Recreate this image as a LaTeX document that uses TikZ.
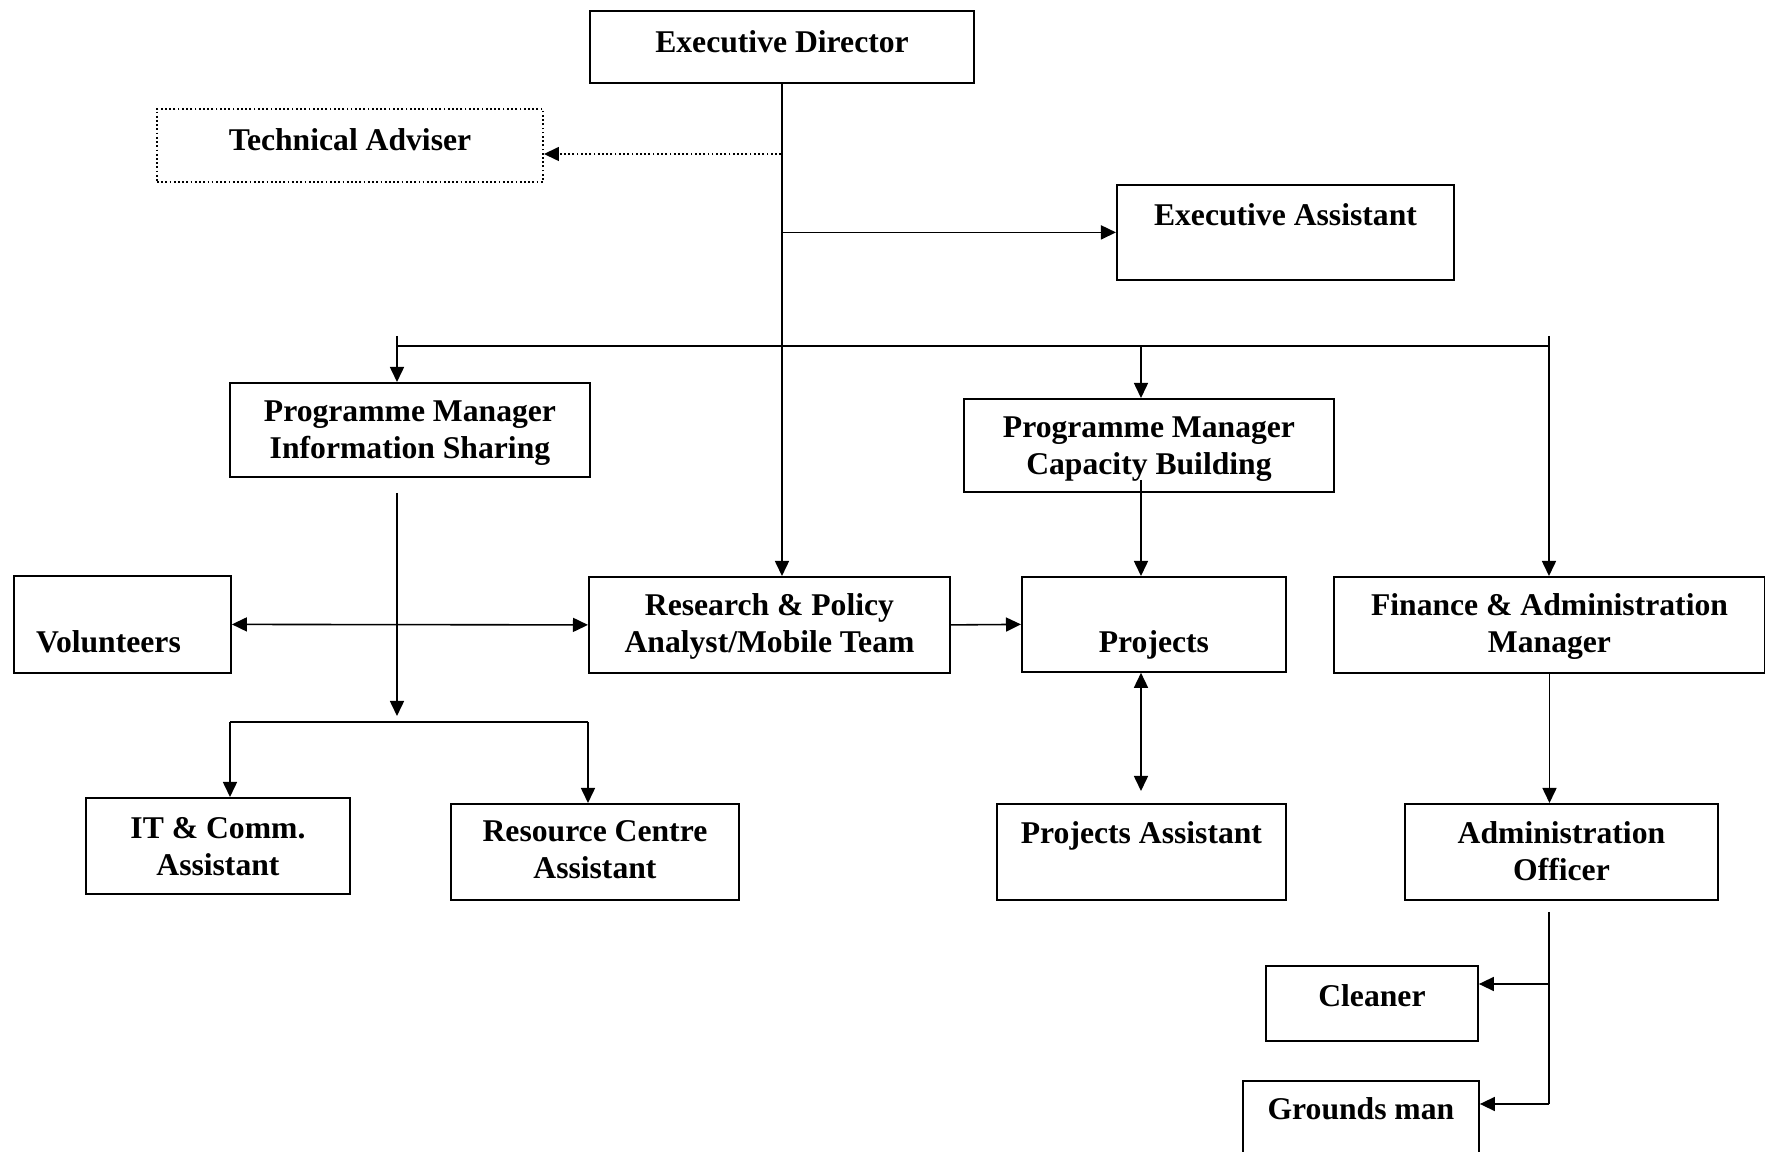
\documentclass[tikz,border=0pt]{standalone}
\usepackage{fontspec}
\setmainfont{Liberation Serif}
\usetikzlibrary{arrows.meta}
\tikzset{
  box/.style={draw, line width=0.5pt, inner sep=0pt, anchor=north west,
    font=\fontsize{9}{10.5}\selectfont\bfseries},
  boxx/.style={box, align=center},
  dots/.style={dash pattern=on 0.5pt off 0.7pt},
  arr/.style={-{Triangle[length=1.5mm,width=1.4mm]}, line width=0.45pt},
  dbl/.style={{Triangle[length=1.5mm,width=1.4mm]}-{Triangle[length=1.5mm,width=1.4mm]}, line width=0.45pt},
  joinline/.style={line width=0.7pt}
}
\begin{document}
\begin{tikzpicture}[x=0.01cm,y=-0.01cm]
    \useasboundingbox (0,0) rectangle (1765,1152);
    \clip (0,0) rectangle (1765,1152);
    \node[box,minimum width=3.84cm,text height=0.42cm,text depth=0.30cm] (ed) at (589,10) {Executive Director};
    \node[box,dots,minimum width=3.86cm,text height=0.42cm,text depth=0.31cm] (ta) at (156,108) {Technical Adviser};
    \node[box,minimum width=3.37cm,text height=0.41cm,text depth=0.54cm] (ea) at (1116,184) {Executive Assistant};
    \node[boxx,minimum width=3.60cm,text height=0.76cm,text depth=0.18cm] (pmis) at (229,382) {Programme Manager\\Information Sharing};
    \node[boxx,minimum width=3.70cm,text height=0.76cm,text depth=0.17cm] (pmcb) at (963,398) {Programme Manager\\Capacity Building};
    \node[box,minimum width=2.17cm,text height=0.77cm,text depth=0.20cm] (vol) at (13,575) {Volunteers\kern0.28cm};
    \node[boxx,minimum width=3.61cm,text height=0.76cm,text depth=0.20cm] (rpa) at (588,576) {Research \& Policy\\Analyst/Mobile Team};
    \node[box,minimum width=2.64cm,text height=0.76cm,text depth=0.19cm] (proj) at (1021,576) {Projects};
    \node[boxx,minimum width=4.31cm,text height=0.76cm,text depth=0.20cm] (fam) at (1333,576) {Finance \& Administration\\Manager};
    \node[boxx,minimum width=2.64cm,text height=0.78cm,text depth=0.18cm] (it) at (85,797) {IT \& Comm.\\Assistant};
    \node[boxx,minimum width=2.88cm,text height=0.75cm,text depth=0.21cm] (rc) at (450,803) {Resource Centre\\Assistant};
    \node[box,minimum width=2.89cm,text height=0.40cm,text depth=0.56cm] (pa) at (996,803) {Projects Assistant};
    \node[boxx,minimum width=3.13cm,text height=0.77cm,text depth=0.19cm] (ao) at (1404,803) {Administration\\Officer};
    \node[box,minimum width=2.12cm,text height=0.41cm,text depth=0.34cm] (cl) at (1265,965) {Cleaner};
    \node[box,minimum width=2.36cm,text height=0.39cm,text depth=0.57cm] (gm) at (1242,1080) {Grounds man};
    \coordinate (tajoin) at (781,154);
    \coordinate (bl) at (397,346);
    \coordinate (br) at (1549,346);
    \coordinate (cbjoin) at (1141,346);
    \coordinate (cbdown) at (1141,480);
    \coordinate (isdown) at (397,493);
    \coordinate (isend) at (397,716);
    \coordinate (itjoin) at (230,722);
    \coordinate (rcjoin) at (588,722);
    \coordinate (paend) at (1141,791);
    \coordinate (aodown) at (1549,912);
    \coordinate (cljoin) at (1549,984);
    \coordinate (gmjoin) at (1549,1104);
    \draw[arr] (ed.south) -- (ed.south |- rpa.north);
    \draw[arr,dots] (tajoin) -- (tajoin -| ta.east);
    \draw[arr] (ed.south |- ea.west) -- (ea.west);
    \draw[joinline] (bl) -- (br);
    \draw[arr] ([yshift=0.1cm]bl) -- (bl |- pmis.north);
    \draw[arr] ([yshift=0.1cm]br) -- (br |- fam.north);
    \draw[arr] (cbjoin) -- (cbjoin |- pmcb.north);
    \draw[arr] (cbdown) -- (cbdown |- proj.north);
    \draw[arr] (isdown) -- (isend);
    \draw[joinline] (itjoin) -- (rcjoin);
    \draw[arr] (itjoin) -- (itjoin |- it.north);
    \draw[arr] (rcjoin) -- (rcjoin |- rc.north);
    \draw[dbl] (vol.east) -- (rpa.west);
    \draw[arr] (rpa.east) -- (proj.west);
    \draw[dbl] (cbdown |- proj.south) -- (paend);
    \draw[arr] (fam.south) -- (fam.south |- ao.north);
    \draw (aodown) -- (gmjoin);
    \draw[arr] (cljoin) -- (cljoin -| cl.east);
    \draw[arr] (gmjoin) -- (gmjoin -| gm.east);
\end{tikzpicture}
\end{document}
